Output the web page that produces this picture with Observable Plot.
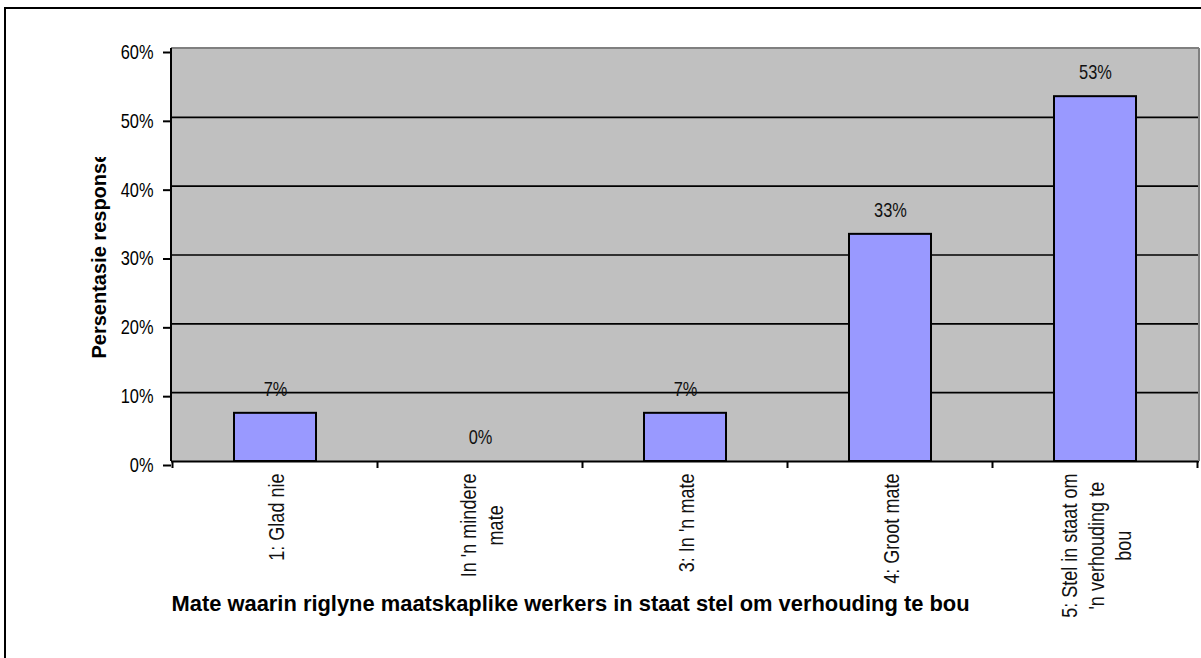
<!DOCTYPE html>
<html><head><meta charset="utf-8">
<script src="https://cdn.jsdelivr.net/npm/d3@7"></script>
<script src="https://cdn.jsdelivr.net/npm/@observablehq/plot@0.6"></script>
<style>
html,body{margin:0;padding:0;background:#fff;}
#chart{position:relative;width:1201px;height:658px;overflow:hidden;}
#frame{position:absolute;left:4px;top:7px;width:1300px;height:800px;border-left:2px solid #000;border-top:2px solid #000;pointer-events:none;}
svg{display:block;}
</style></head><body>
<div id="chart"><div id="frame"></div></div>
<script>
// ---- data ----
const categories = ["1: Glad nie", "In 'n mindere\nmate", "3: In 'n mate", "4: Groot mate", "5: Stel in staat om\n'n verhouding te\nbou"];
const values = [0.07, 0, 0.07, 0.33, 0.53];
const yTicks = [0, 0.1, 0.2, 0.3, 0.4, 0.5, 0.6];
const yTitle = "Persentasie response";
const xTitle = "Mate waarin riglyne maatskaplike werkers in staat stel om verhouding te bou";

// ---- layout / style ----
const W = 1201, H = 658;
const mL = 171, mR = 2, mT = 48, mB = 197;
const narrow = "'Liberation Sans Narrow','Liberation Sans',Arial,sans-serif";
const regular = "'Liberation Sans',Arial,sans-serif";
const squeeze = 0.82; // condensed look of the reference text
const pct = d3.format(".0%");
const data = categories.map((c, i) => ({cat: c, value: values[i]}));

const catFont = 22;
const ctx = document.createElement("canvas").getContext("2d");
ctx.font = `${catFont}px ${regular}`;
const labelDy = categories.map(c => 12 + squeeze * Math.max(...c.split("\n").map(l => ctx.measureText(l).width)) / 2);

function structure(index, {x, y}, values, dims) {
  const g = d3.create("svg:g");
  const step = x.step(), bw = x.bandwidth();
  const left = dims.marginLeft, right = dims.width - dims.marginRight;
  const top = dims.marginTop, bottom = dims.height - dims.marginBottom;
  g.append("line").attr("x1", left).attr("x2", right).attr("y1", y(0.6)).attr("y2", y(0.6))
    .attr("stroke", "#808080").attr("stroke-width", 2);
  g.append("line").attr("x1", right).attr("x2", right).attr("y1", top).attr("y2", bottom)
    .attr("stroke", "#808080").attr("stroke-width", 2);
  g.append("line").attr("x1", left).attr("x2", left).attr("y1", top).attr("y2", bottom)
    .attr("stroke", "#000").attr("stroke-width", 2);
  const doms = x.domain();
  const bounds = doms.map(d => x(d) - (step - bw) / 2);
  bounds.push(x(doms[doms.length - 1]) + bw + (step - bw) / 2);
  for (const b of bounds) {
    g.append("line").attr("x1", b).attr("x2", b).attr("y1", bottom).attr("y2", bottom + 7)
      .attr("stroke", "#000").attr("stroke-width", 2);
  }
  return g.node();
}

const plot = Plot.plot({
  width: W, height: H,
  marginLeft: mL, marginRight: mR, marginTop: mT, marginBottom: mB,
  style: {background: "transparent", overflow: "visible"},
  x: {domain: categories, paddingInner: 0.6, paddingOuter: 0.3, axis: null},
  y: {domain: [0, 0.6], axis: null},
  marks: [
    Plot.frame({fill: "#C0C0C0", stroke: null}),
    Plot.ruleY(yTicks.filter(v => v > 0 && v < 0.6), {stroke: "#000", strokeWidth: 1.6}),
    Plot.barY(data.filter(d => d.value > 0), {x: "cat", y: "value", fill: "#9999FF", stroke: "#000", strokeWidth: 2}),
    Plot.ruleY([0], {stroke: "#000", strokeWidth: 2}),
    structure,
    Plot.axisY({ticks: yTicks, tickFormat: pct, tickSize: 8, tickPadding: 10, fontSize: 20,
      fontFamily: narrow, color: "#000", strokeWidth: 2, dy: 4, label: null}),
    Plot.text(data, {x: "cat", y: "value", text: d => pct(d.value), dy: -24,
      fontSize: 20, fontFamily: narrow, fill: "#111"}),
    ...categories.map((c, i) => Plot.text([c], {x: d => d, text: d => d, frameAnchor: "bottom",
      rotate: -90, textAnchor: "middle", lineAnchor: "middle", lineHeight: 1.23, dy: labelDy[i],
      fontSize: catFont, fontFamily: narrow, fill: "#111"})),
    Plot.text([yTitle], {frameAnchor: "left", rotate: -90, textAnchor: "start", dx: -72, dy: 103.5,
      fontSize: 20, fontWeight: "bold", fontFamily: regular, fill: "#000"}),
    Plot.text([xTitle], {frameAnchor: "bottom-left", textAnchor: "start", dy: 149,
      fontSize: 21.9, fontWeight: "bold", fontFamily: regular, fill: "#000"})
  ]
});

const svg = d3.select(plot);
// condensed text: squeeze along the reading direction
svg.selectAll("g[font-family*='Narrow'] text").each(function() {
  const t = this.getAttribute("transform");
  if (t) {
    this.setAttribute("transform", t + ` scale(${squeeze},1)`);
  } else {
    const x = +(this.getAttribute("x") || 0), y = +(this.getAttribute("y") || 0);
    this.removeAttribute("x"); this.removeAttribute("y");
    this.setAttribute("transform", `translate(${x},${y}) scale(${squeeze},1)`);
  }
});
// clip the y title like the reference
svg.append("defs").append("clipPath").attr("id", "ytclip").attr("clipPathUnits", "userSpaceOnUse")
  .append("rect").attr("x", 0).attr("y", 157).attr("width", mL).attr("height", H);
svg.selectAll("text").filter(function() { return this.textContent === yTitle; }).each(function() {
  const parent = this.parentNode;
  const wrap = document.createElementNS("http://www.w3.org/2000/svg", "g");
  wrap.setAttribute("clip-path", "url(#ytclip)");
  parent.parentNode.insertBefore(wrap, parent);
  wrap.appendChild(parent);
});

document.getElementById("chart").prepend(plot);
</script>
</body></html>
